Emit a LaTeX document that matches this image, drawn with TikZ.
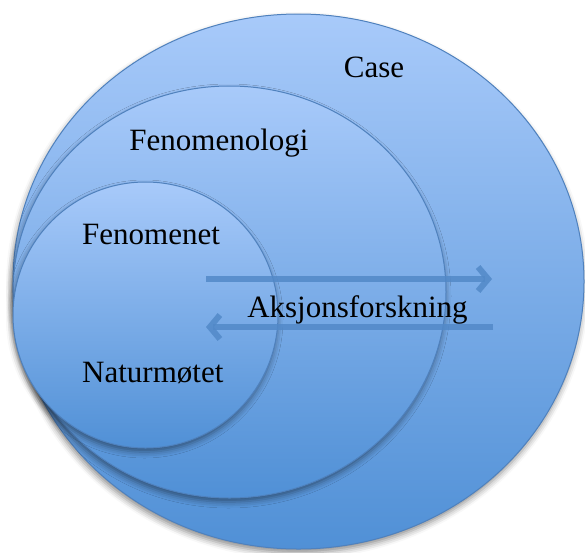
\documentclass[tikz,border=0pt]{standalone}
\usepackage{fontspec}
\setmainfont{Liberation Serif}
\usetikzlibrary{shapes.geometric,shadows.blur,arrows.meta}
\definecolor{topblue}{HTML}{A8CAFA}
\definecolor{botblue}{HTML}{5090D6}
\definecolor{edgeblue}{HTML}{4F81BD}
\definecolor{arrowblue}{HTML}{5289C8}
\begin{document}
\begin{tikzpicture}[x=1pt,y=-1pt,
  disc/.style={ellipse, draw=edgeblue, line width=1pt, top color=topblue, bottom color=botblue, inner sep=0pt,
    blur shadow={shadow xshift=-1pt, shadow yshift=-4pt, shadow blur radius=6pt, shadow opacity=45}},
  lbl/.style={font=\fontsize{31}{36}\selectfont, inner sep=0pt},
  flow/.style={draw=arrowblue, line width=6pt, -{Straight Barb[length=10pt,width=24pt]}, opacity=0.85}]
\useasboundingbox (0,0) rectangle (585,552);
\node[disc, minimum width=571pt, minimum height=535pt] (case) at (298.5,281.5) {};
\node[disc, minimum width=433pt, minimum height=412pt] (feno) at (229.5,292) {};
\node[disc, minimum width=265pt, minimum height=266pt] (fen) at (145.5,315) {};
\coordinate (r1s) at (206,279);
\coordinate (r1e) at (492,279);
\coordinate (r2s) at (493,327);
\coordinate (r2e) at (206,327);
\draw[flow] (r1s) -- (r1e);
\draw[flow] (r2s) -- (r2e);
\node[lbl, anchor=base] (caselbl) at (374,77) {Case};
\node[lbl, anchor=base] (fenolbl) at (219,150) {Fenomenologi};
\node[lbl, anchor=base west] (fenlbl) at (82,244) {Fenomenet};
\node[lbl, anchor=base] (akslbl) at (357.5,317) {Aksjonsforskning};
\node[lbl, anchor=base west] (natlbl) at (82,382) {Naturmøtet};
\end{tikzpicture}
\end{document}
